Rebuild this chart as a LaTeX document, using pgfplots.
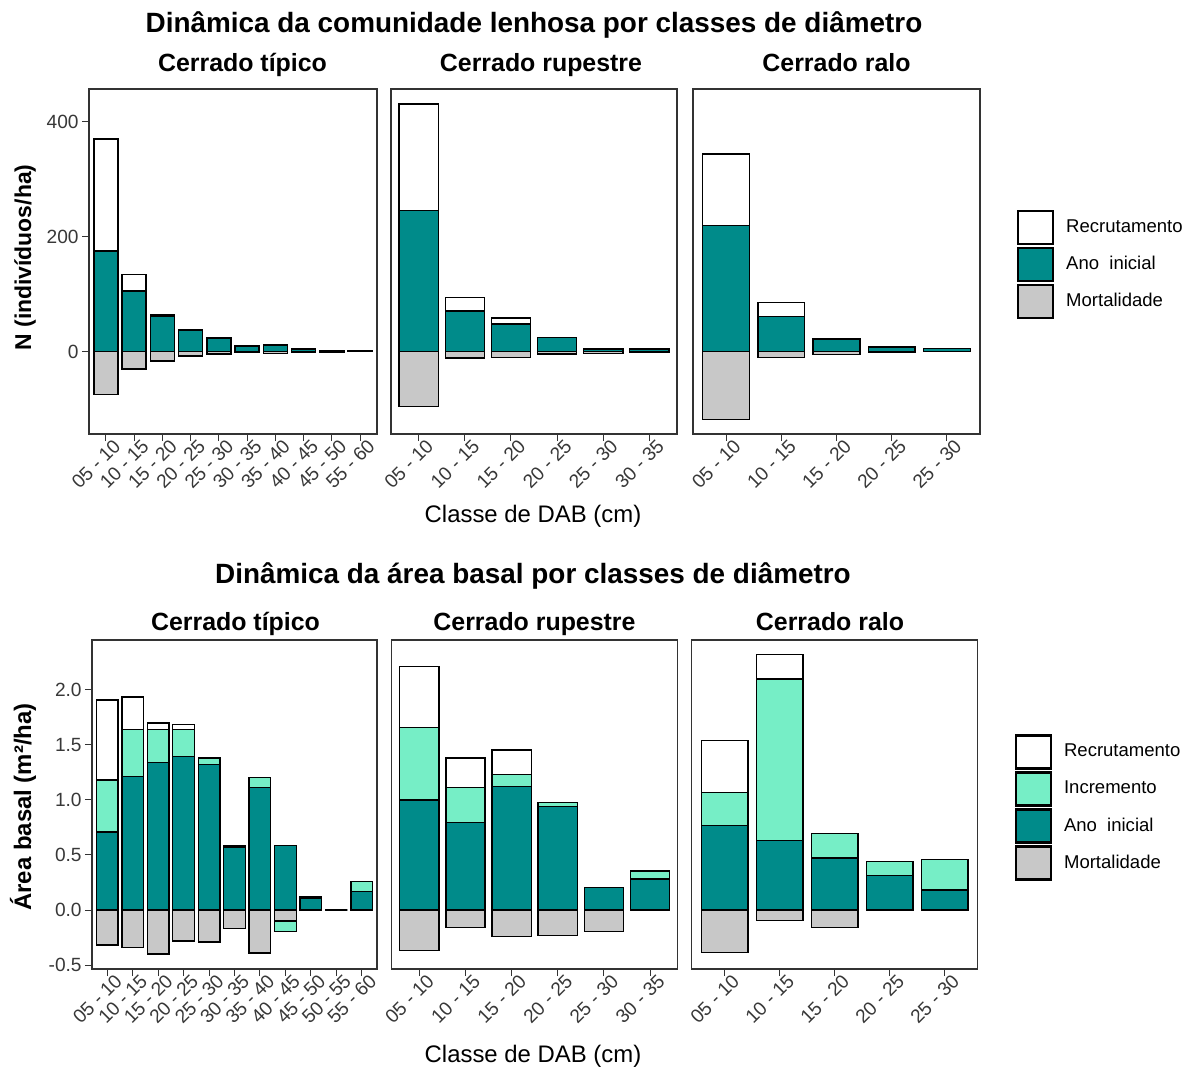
\documentclass[border=0pt]{standalone}
\usepackage{fontspec}
\setmainfont{Liberation Sans}
\usepackage{pgfplots}
\usepackage{pgfplotstable}
\pgfplotsset{compat=1.18}

\definecolor{tealbar}{HTML}{008B8A}
\definecolor{mint}{HTML}{76EEC6}
\definecolor{mortg}{HTML}{C8C8C8}
\definecolor{framec}{HTML}{333333}
\definecolor{ticktxt}{HTML}{383838}

% densidade (ind/ha): topo acumulado de cada segmento
\pgfplotstableread{
x tot ano mort
0 370 175 -74
1 134 106 -30
2 64  61  -16
3 38  38  -7
4 24  24  -4
5 10  10  -1
6 12  12  -3
7 5   5   -0.5
8 2.5 2.5 -0.3
9 2   2   0
}\tNa
\pgfplotstableread{
x tot ano mort
0 431 246 -95
1 94  71  -11
2 59  48  -10
3 25  25  -4
4 6   5   -3
5 5   5   -1
}\tNb
\pgfplotstableread{
x tot ano mort
0 344 220 -118
1 86  61  -10
2 22  22  -5
3 8   8   -0.5
4 6   6   0
}\tNc

% area basal (m2/ha)
\pgfplotstableread{
x tot inc ano mort
0 1.904 1.180 0.707 -0.317
1 1.930 1.635 1.210 -0.340
2 1.695 1.635 1.340 -0.400
3 1.683 1.635 1.390 -0.280
4 1.380 1.380 1.317 -0.290
5 0.583 0.583 0.572 -0.170
6 1.200 1.200 1.110 -0.390
7 0.583 0.583 0.583 -0.100
8 0.120 0.120 0.110 0
9 0     0     0     0
10 0.257 0.257 0.166 0
}\tGa
\pgfplotstableread{
x tot inc ano mort
0 2.206 1.656 0.997 -0.369
1 1.378 1.109 0.792 -0.160
2 1.450 1.230 1.121 -0.242
3 0.973 0.973 0.937 -0.230
4 0.206 0.206 0.206 -0.197
5 0.354 0.354 0.281 0
}\tGb
\pgfplotstableread{
x tot inc ano mort
0 1.535 1.067 0.767 -0.387
1 2.315 2.094 0.632 -0.097
2 0.695 0.695 0.471 -0.157
3 0.438 0.438 0.314 0
4 0.459 0.459 0.181 0
}\tGc

\pgfplotsset{
  panel/.style={
    scale only axis, anchor=north west,
    ybar, bar width=0.85, bar shift=0pt,
    enlargelimits=false,
    axis line style={draw=framec, line width=0.6bp},
    tick style={draw=framec, line width=0.5bp},
    tick align=outside, major tick length=3.5bp,
    xtick pos=bottom, ytick pos=left,
    xticklabel style={rotate=45, anchor=north east, inner sep=1bp, xshift=4.5bp,
      font=\fontsize{9.6}{11}\selectfont, text=ticktxt},
    yticklabel style={inner sep=1.5bp, font=\fontsize{9.6}{11}\selectfont, text=ticktxt},
    /pgf/number format/assume math mode=true,
    every axis plot/.append style={draw=black, line width=0.7bp},
    legend image code/.code={\draw[line width=1.1bp] (0bp,-8.25bp) rectangle (17.5bp,8.25bp);},
    legend cell align=left,
  },
  toprow/.style={panel, height=172.5bp, ymin=-143, ymax=457, ytick={0,200,400}},
  botrow/.style={panel, height=164.5bp, ymin=-0.535, ymax=2.448,
    ytick={-0.5,0,0.5,1,1.5,2},
    yticklabel style={/pgf/number format/.cd, fixed, fixed zerofill, precision=1}},
  keys/.style={legend style={draw=none, fill=none, inner sep=0pt, outer sep=0pt,
    row sep=0.9bp, font=\fontsize{9.3}{11}\selectfont,
    nodes={inner sep=0pt},
    /tikz/every odd column/.style={column sep=6bp}}},
}

\begin{document}
\begin{tikzpicture}
\useasboundingbox (0,0) rectangle (597.5bp,-534bp);

% titulos
\node[anchor=base, font=\bfseries\fontsize{14}{16}\selectfont] at (267bp,-16.25bp)
  {Dinâmica da comunidade lenhosa por classes de diâmetro};
\node[anchor=base, font=\bfseries\fontsize{14}{16}\selectfont] at (266.5bp,-291.75bp)
  {Dinâmica da área basal por classes de diâmetro};
\foreach \xx/\tt in {121.25/Cerrado típico, 270.5/Cerrado rupestre, 418.25/Cerrado ralo}
  \node[anchor=base, font=\bfseries\fontsize{12.5}{14}\selectfont] at (\xx bp,-35.5bp) {\tt};
\foreach \xx/\tt in {117.75/Cerrado típico, 267.25/Cerrado rupestre, 415/Cerrado ralo}
  \node[anchor=base, font=\bfseries\fontsize{12.5}{14}\selectfont] at (\xx bp,-315bp) {\tt};
\node[anchor=base, font=\fontsize{12}{14}\selectfont] at (266.5bp,-261bp) {Classe de DAB (cm)};
\node[anchor=base, font=\fontsize{12}{14}\selectfont] at (266.5bp,-531bp) {Classe de DAB (cm)};
\node[anchor=base, rotate=90, font=\bfseries\fontsize{11.5}{13}\selectfont] at (15.5bp,-128.75bp) {N (indivíduos/ha)};
\node[anchor=base, rotate=90, font=\bfseries\fontsize{12}{14}\selectfont] at (15.5bp,-403.5bp) {Área basal (m²/ha)};

% ---- linha de cima: N
\begin{axis}[toprow, at={(44.5bp,-44.5bp)}, width=144bp,
  xmin=-0.6, xmax=9.6, xtick={0,...,9},
  xticklabels={05 - 10,10 - 15,15 - 20,20 - 25,25 - 30,30 - 35,35 - 40,40 - 45,45 - 50,55 - 60}]
\addplot[fill=white] table[x=x,y=tot]{\tNa};
\addplot[fill=tealbar] table[x=x,y=ano]{\tNa};
\addplot[fill=mortg] table[x=x,y=mort]{\tNa};
\end{axis}

\begin{axis}[toprow, at={(195.5bp,-44.5bp)}, width=143bp, ytick=\empty,
  xmin=-0.6, xmax=5.6, xtick={0,...,5},
  xticklabels={05 - 10,10 - 15,15 - 20,20 - 25,25 - 30,30 - 35}]
\addplot[fill=white] table[x=x,y=tot]{\tNb};
\addplot[fill=tealbar] table[x=x,y=ano]{\tNb};
\addplot[fill=mortg] table[x=x,y=mort]{\tNb};
\end{axis}

\begin{axis}[toprow, keys, at={(346.5bp,-44.5bp)}, width=143.5bp, ytick=\empty,
  xmin=-0.6, xmax=4.6, xtick={0,...,4},
  xticklabels={05 - 10,10 - 15,15 - 20,20 - 25,25 - 30},
  legend style={at={(1.129,0.650)}, anchor=north west}]
\addplot[fill=white] table[x=x,y=tot]{\tNc};
\addlegendentry{Recrutamento}
\addplot[fill=tealbar] table[x=x,y=ano]{\tNc};
\addlegendentry{Ano\hspace{0.55em}inicial}
\addplot[fill=mortg] table[x=x,y=mort]{\tNc};
\addlegendentry{Mortalidade}
\end{axis}

% ---- linha de baixo: area basal
\begin{axis}[botrow, at={(46bp,-320bp)}, width=142.5bp,
  xmin=-0.6, xmax=10.6, xtick={0,...,10},
  xticklabels={05 - 10,10 - 15,15 - 20,20 - 25,25 - 30,30 - 35,35 - 40,40 - 45,45 - 50,50 - 55,55 - 60}]
\addplot[fill=white] table[x=x,y=tot]{\tGa};
\addplot[fill=mint] table[x=x,y=inc]{\tGa};
\addplot[fill=tealbar] table[x=x,y=ano]{\tGa};
\addplot[fill=mint] coordinates {(7,-0.197)};
\addplot[fill=mortg] table[x=x,y=mort]{\tGa};
\end{axis}

\begin{axis}[botrow, at={(195.85bp,-320bp)}, width=143bp, ytick=\empty,
  xmin=-0.6, xmax=5.6, xtick={0,...,5},
  xticklabels={05 - 10,10 - 15,15 - 20,20 - 25,25 - 30,30 - 35}]
\addplot[fill=white] table[x=x,y=tot]{\tGb};
\addplot[fill=mint] table[x=x,y=inc]{\tGb};
\addplot[fill=tealbar] table[x=x,y=ano]{\tGb};
\addplot[fill=mortg] table[x=x,y=mort]{\tGb};
\end{axis}

\begin{axis}[botrow, keys, at={(345.85bp,-320bp)}, width=143bp, ytick=\empty,
  xmin=-0.6, xmax=4.6, xtick={0,...,4},
  xticklabels={05 - 10,10 - 15,15 - 20,20 - 25,25 - 30},
  legend style={at={(1.130,0.713)}, anchor=north west}]
\addplot[fill=white] table[x=x,y=tot]{\tGc};
\addlegendentry{Recrutamento}
\addplot[fill=mint] table[x=x,y=inc]{\tGc};
\addlegendentry{Incremento}
\addplot[fill=tealbar] table[x=x,y=ano]{\tGc};
\addlegendentry{Ano\hspace{0.55em}inicial}
\addplot[fill=mortg] table[x=x,y=mort]{\tGc};
\addlegendentry{Mortalidade}
\end{axis}
\end{tikzpicture}
\end{document}
